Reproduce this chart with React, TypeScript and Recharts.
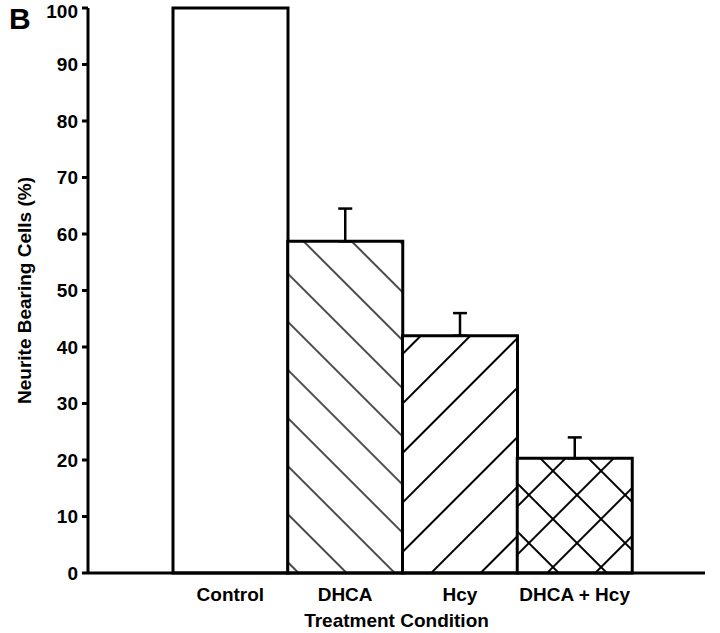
import React from 'react'
import { BarChart, Bar, XAxis, YAxis, ErrorBar, Cell } from 'recharts'

const categories = ['Control', 'DHCA', 'Hcy', 'DHCA + Hcy']
const neuriteValues = [100, 58.7, 42.0, 20.3]
const errorValues: (number | null)[] = [null, 5.8, 4.0, 3.7]
const yTicks = [0, 10, 20, 30, 40, 50, 60, 70, 80, 90, 100]
const fills = ['#ffffff', 'url(#hatchBack)', 'url(#hatchFwd)', 'url(#hatchCross)']

const FONT = '"Liberation Sans", Arial, sans-serif'

export default function App() {
  const chartData = categories.map((name, i) => ({
    name,
    value: neuriteValues[i],
    err: errorValues[i] === null ? null : [0, errorValues[i]],
  }))

  return (
    <div style={{ position: 'absolute', left: 0, top: 0, width: 720, height: 633, background: '#fff', fontFamily: FONT }}>
      <div style={{ position: 'absolute', left: 9, top: 2, fontSize: 30, fontWeight: 'bold', color: '#000' }}>B</div>
      <BarChart
        width={720}
        height={633}
        data={chartData}
        margin={{ top: 8, right: 15, bottom: 6, left: 0 }}
        barCategoryGap={0}
      >
        <defs>
          <pattern id="hatchBack" patternUnits="userSpaceOnUse" width="34" height="34" patternTransform="rotate(-45)">
            <rect width="34" height="34" fill="#fff" />
            <line x1="10" y1="0" x2="10" y2="34" stroke="#000" strokeWidth="1.4" />
          </pattern>
          <pattern id="hatchFwd" patternUnits="userSpaceOnUse" width="35" height="35" patternTransform="rotate(45)">
            <rect width="35" height="35" fill="#fff" />
            <line x1="10" y1="0" x2="10" y2="35" stroke="#000" strokeWidth="2" />
          </pattern>
          <pattern id="hatchCross" patternUnits="userSpaceOnUse" width="34" height="34" patternTransform="rotate(45)">
            <rect width="34" height="34" fill="#fff" />
            <line x1="10" y1="0" x2="10" y2="34" stroke="#000" strokeWidth="2" />
            <line x1="0" y1="10" x2="34" y2="10" stroke="#000" strokeWidth="2" />
          </pattern>
        </defs>
        <XAxis
          dataKey="name"
          padding={{ left: 85, right: 73 }}
          axisLine={{ stroke: '#000', strokeWidth: 3 }}
          tickLine={false}
          tickSize={0}
          tickMargin={15}
          height={54}
          tick={{ fill: '#000', fontSize: 19, fontWeight: 'bold', fontFamily: FONT }}
          interval={0}
          label={{
            value: 'Treatment Condition',
            position: 'insideBottom',
            offset: 0,
            style: { fill: '#000', fontSize: 19, fontWeight: 'bold', fontFamily: FONT },
          }}
        />
        <YAxis
          domain={[0, 100]}
          ticks={yTicks}
          width={88}
          axisLine={{ stroke: '#000', strokeWidth: 3 }}
          tickLine={{ stroke: '#000', strokeWidth: 3 }}
          tickSize={6}
          tickMargin={4}
          tick={{ fill: '#000', fontSize: 19, fontWeight: 'bold', fontFamily: FONT }}
          label={{
            value: 'Neurite Bearing Cells (%)',
            angle: -90,
            position: 'insideLeft',
            offset: 24,
            style: { fill: '#000', fontSize: 19, fontWeight: 'bold', fontFamily: FONT, textAnchor: 'middle' },
          }}
        />
        <Bar dataKey="value" stroke="#000" strokeWidth={3} isAnimationActive={false}>
          {chartData.map((d, i) => (
            <Cell key={d.name} fill={fills[i]} />
          ))}
          <ErrorBar dataKey="err" direction="y" width={7} stroke="#000" strokeWidth={2.5} />
        </Bar>
      </BarChart>
    </div>
  )
}
